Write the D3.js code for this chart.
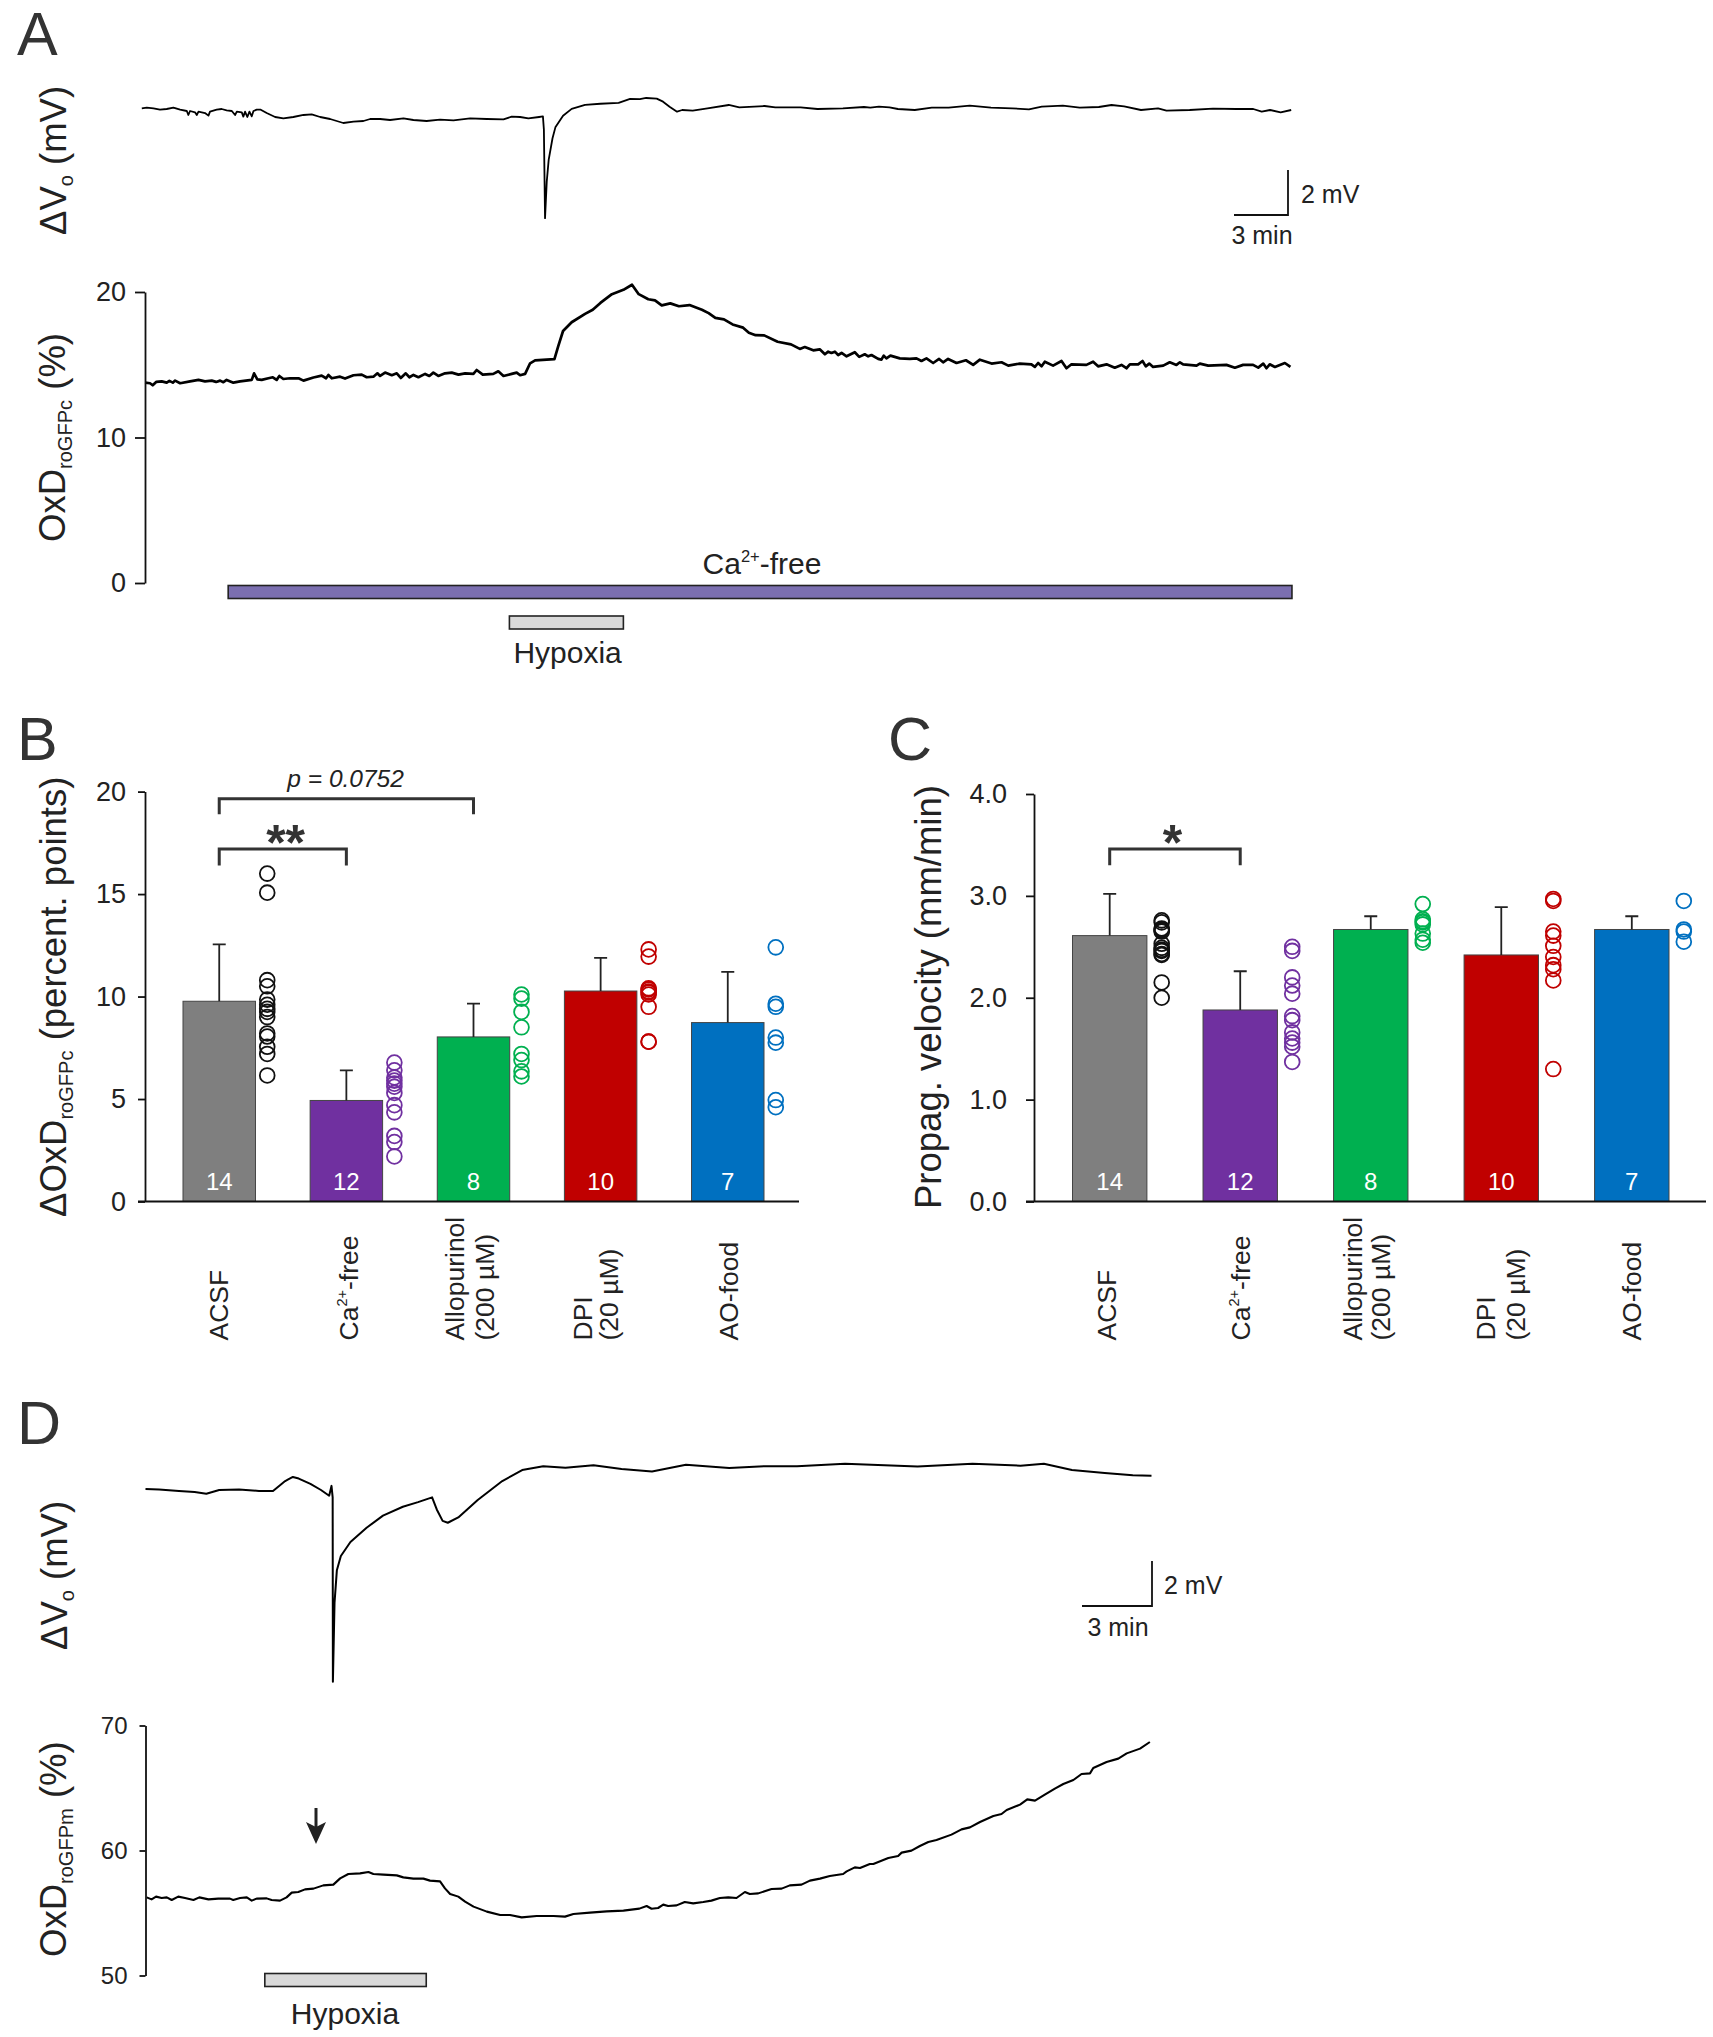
<!DOCTYPE html>
<html>
<head>
<meta charset="utf-8">
<script src="https://cdn.jsdelivr.net/npm/d3@7"></script>
<style>
  html, body { margin: 0; background: #fff; }
  text { font-family: "Liberation Sans", Arial, sans-serif; fill: #222; }
  .domain, .tick line { stroke: #111; stroke-width: 1.8; }
</style>
</head>
<body>
<div id="chart"></div>
<script>
// A: extracellular potential, [min, mV]
const traceAV = [[0.01,-0.015],[0.27,0.015],[0.62,-0.015],[0.96,-0.075],[1.31,-0.045],[1.66,0.015],[2.01,-0.075],[2.36,-0.135],[2.44,-0.314],[2.53,-0.135],[2.79,-0.195],[2.88,-0.314],[2.97,-0.165],[3.31,-0.225],[3.49,-0.344],[3.57,-0.165],[3.92,-0.075],[4.18,-0.045],[4.44,-0.105],[4.71,-0.135],[4.88,-0.314],[4.97,-0.165],[5.23,-0.195],[5.31,-0.389],[5.4,-0.165],[5.52,-0.404],[5.63,-0.165],[5.75,-0.374],[5.84,-0.135],[6.01,-0.075],[6.22,-0.075],[6.53,-0.225],[6.97,-0.404],[7.4,-0.464],[7.92,-0.404],[8.45,-0.314],[8.88,-0.284],[9.32,-0.404],[9.84,-0.494],[10.53,-0.674],[11.06,-0.614],[11.58,-0.584],[11.93,-0.494],[12.45,-0.494],[12.97,-0.539],[13.67,-0.464],[14.19,-0.539],[14.88,-0.584],[15.58,-0.524],[16.28,-0.554],[17.15,-0.464],[18.02,-0.494],[18.89,-0.509],[19.32,-0.389],[19.76,-0.404],[20.19,-0.464],[20.75,-0.404],[20.95,-0.38],[21,-0.97],[21.06,-4.95],[21.15,-3.3],[21.25,-2.33],[21.45,-1.36],[21.6,-0.87],[22,-0.35],[22.45,-0.04],[23.15,0.14],[23.95,0.19],[24.9,0.23],[25.5,0.41],[26.01,0.4],[26.34,0.45],[26.89,0.42],[27.22,0.284],[27.56,0.06],[27.95,-0.165],[28.22,-0.09],[28.77,-0.12],[29.54,-0.015],[30.65,0.135],[31.2,0.03],[32.52,0.09],[33.08,0.03],[34.4,0.03],[35.28,-0.045],[36.61,-0.015],[37.71,0.045],[38.04,0.015],[38.49,0.06],[39.04,0.03],[39.48,-0.045],[40.36,-0.09],[41.25,0.015],[42.13,0.015],[43.23,0.105],[44.34,0.015],[45.44,-0.015],[46.32,-0.06],[46.99,0.06],[48.09,0.105],[48.97,0.015],[49.97,0.045],[50.63,0.135],[51.29,0.075],[52.17,-0.09],[53.06,-0.015],[53.5,-0.12],[54.71,-0.09],[55.93,-0.03],[57.14,-0.045],[58.03,-0.045],[58.47,-0.165],[58.91,-0.09],[59.46,-0.195],[60.01,-0.09]];
// A: roGFPc oxidation, [min, %]
const traceAOx = [[0.18,13.77],[0.44,13.73],[0.58,13.59],[0.76,13.82],[1.05,13.86],[1.31,13.77],[1.45,13.89],[1.63,13.77],[1.75,13.91],[2.01,13.73],[2.53,13.86],[2.97,13.96],[3.31,13.86],[3.66,13.91],[3.89,13.82],[4.1,13.91],[4.27,13.8],[4.44,13.96],[4.79,13.77],[5.14,13.86],[5.75,13.96],[5.87,14.41],[6.04,14],[6.27,13.96],[6.62,14.07],[6.85,14.14],[7.05,13.96],[7.19,14.23],[7.4,14.02],[7.75,14.07],[8.19,14.07],[8.45,13.91],[8.97,14.12],[9.4,14.25],[9.63,14.07],[9.75,14.3],[9.93,14.07],[10.36,14.18],[10.62,14.05],[11.06,14.28],[11.49,14.32],[11.75,14.14],[12.1,14.18],[12.31,14.41],[12.45,14.23],[12.71,14.46],[13.06,14.28],[13.32,14.41],[13.53,14.09],[13.79,14.41],[13.98,14.14],[14.19,14.3],[14.45,14.14],[14.8,14.37],[15.02,14.23],[15.23,14.46],[15.49,14.23],[15.84,14.41],[16.19,14.46],[16.54,14.32],[16.89,14.41],[17.32,14.37],[17.49,14.64],[17.81,14.32],[18.36,14.37],[18.62,14.55],[18.89,14.23],[19.32,14.37],[19.58,14.46],[19.76,14.28],[20.02,14.37],[20.28,15.1],[20.54,15.3],[21.55,15.39],[21.75,16.28],[22,17.32],[22.45,17.92],[23.15,18.5],[23.55,18.78],[23.95,19.25],[24.55,19.85],[25.15,20.15],[25.6,20.5],[25.95,19.85],[26.45,19.5],[26.8,19.42],[27.15,19.08],[27.6,19.22],[28.05,19.02],[28.6,19.1],[29.25,18.78],[29.6,18.55],[29.95,18.22],[30.4,18.12],[30.85,17.77],[31.4,17.55],[31.7,17.2],[32.05,17.03],[32.5,17.02],[33.2,16.58],[33.9,16.4],[34.36,16.09],[34.62,16.22],[35.06,15.99],[35.4,16.06],[35.67,15.72],[35.84,15.9],[36.01,15.81],[36.19,15.9],[36.36,15.67],[36.54,15.81],[36.8,15.58],[37.23,15.86],[37.46,15.54],[37.75,15.72],[37.93,15.58],[38.1,15.67],[38.45,15.4],[38.62,15.35],[38.74,15.63],[38.88,15.44],[39.09,15.63],[39.58,15.44],[40.1,15.4],[40.45,15.44],[40.71,15.26],[40.97,15.44],[41.32,15.12],[41.63,15.4],[41.84,15.17],[42.1,15.4],[42.54,15.12],[43.03,15.31],[43.41,14.99],[43.76,15.35],[44.37,15.08],[44.89,15.17],[45.24,14.94],[45.84,15.08],[46.45,15.03],[46.63,14.85],[46.8,15.12],[46.98,14.89],[47.15,15.21],[47.58,14.94],[48.02,15.26],[48.28,14.76],[48.54,15.03],[49.32,14.99],[49.67,15.21],[49.93,14.89],[50.37,15.03],[50.8,14.8],[51.15,14.99],[51.41,14.76],[51.59,15.03],[52.02,15.03],[52.25,15.26],[52.42,14.89],[52.6,15.08],[52.8,14.85],[53.33,14.94],[53.67,15.17],[54.02,14.99],[54.2,15.17],[54.37,15.03],[55.07,14.94],[55.24,15.08],[55.68,14.94],[56.63,14.99],[57.07,14.8],[57.5,14.99],[58.02,14.99],[58.29,14.8],[58.55,15.08],[58.72,14.76],[58.89,15.03],[59.16,14.85],[59.42,14.99],[59.68,15.12],[59.97,14.85]];

const groups = ["ACSF", "Ca-free", "Allopurinol", "DPI", "AO-food"];
const groupColors = ["#7f7f7f", "#7030a0", "#00b050", "#c00000", "#0070c0"];
const dotColors = ["#111111", "#7030a0", "#00b050", "#c00000", "#0070c0"];
const groupN = [14, 12, 8, 10, 7];

// B: change of oxidation, percentage points
const meanB = [9.77, 4.93, 8.03, 10.27, 8.73];
const errB = [12.55, 6.4, 9.65, 11.89, 11.2];
const dotsB = [
  [16.0, 15.07, 10.8, 10.5, 9.85, 9.6, 9.4, 9.25, 9.0, 8.2, 8.05, 7.55, 7.2, 6.15],
  [6.78, 6.4, 6.05, 5.9, 5.75, 5.6, 5.3, 4.7, 4.35, 3.2, 2.9, 2.2],
  [10.1, 9.9, 9.25, 8.5, 7.2, 6.9, 6.35, 6.1],
  [12.3, 11.95, 10.4, 10.35, 10.25, 10.2, 10.1, 9.5, 7.8, 7.8],
  [12.4, 9.65, 9.5, 8.0, 7.75, 4.95, 4.6]
];

// C: propagation velocity, mm/min
const meanC = [2.61, 1.88, 2.67, 2.42, 2.67];
const errC = [3.02, 2.26, 2.80, 2.89, 2.80];
const dotsC = [
  [2.76, 2.74, 2.68, 2.67, 2.66, 2.65, 2.53, 2.49, 2.47, 2.46, 2.43, 2.42, 2.15, 2.0],
  [2.5, 2.46, 2.2, 2.12, 2.04, 1.82, 1.78, 1.66, 1.6, 1.56, 1.52, 1.37],
  [2.92, 2.77, 2.75, 2.74, 2.72, 2.63, 2.57, 2.54],
  [2.97, 2.95, 2.65, 2.61, 2.51, 2.4, 2.32, 2.28, 2.17, 1.3],
  [2.95, 2.67, 2.65, 2.55]
];

// D: extracellular potential, [min, mV]
const traceDV = [[0,0.04],[0.58,0.02],[1.43,-0.04],[2.1,-0.09],[2.6,-0.16],[3.15,0],[4,0.02],[4.85,-0.04],[5.45,-0.04],[5.75,0.21],[5.97,0.39],[6.1,0.46],[6.3,0.57],[6.55,0.5],[7.05,0.27],[7.5,0],[7.85,-0.25],[7.95,0.18],[8,-0.32],[8.01,-8.37],[8.08,-4.92],[8.18,-3.5],[8.35,-2.88],[8.76,-2.27],[9.45,-1.65],[10.15,-1.12],[11,-0.73],[11.65,-0.53],[12.25,-0.32],[12.45,-0.85],[12.7,-1.35],[12.92,-1.43],[13.37,-1.2],[14.2,-0.44],[15.25,0.39],[16.1,0.87],[17,1.04],[17.95,0.97],[19.15,1.08],[20.35,0.92],[21.65,0.81],[23.1,1.1],[24.95,0.96],[26.5,1.04],[27.85,1.04],[29.9,1.15],[33,1.03],[35.35,1.15],[37.4,1.06],[38.4,1.15],[39.6,0.87],[41,0.74],[42.2,0.64],[43,0.62]];
// D: roGFPm oxidation, [min, %]
const traceDOx = [[0.05,56.25],[0.26,56.09],[0.45,56.31],[0.69,56.2],[0.91,56.25],[1.12,56.04],[1.4,56.31],[1.69,56.2],[2.05,56.04],[2.3,56.25],[2.69,56.09],[3.11,56.15],[3.61,56.15],[3.75,56.04],[4.04,56.2],[4.33,56.25],[4.54,55.99],[4.75,56.15],[5.18,56.17],[5.39,56.04],[5.75,55.99],[6.03,56.25],[6.25,56.63],[6.53,56.68],[6.82,56.89],[7.18,56.95],[7.6,57.21],[8.03,57.27],[8.32,57.77],[8.67,58.12],[9.17,58.17],[9.53,58.28],[9.74,58.12],[10.17,58.07],[10.74,58.01],[11.02,57.85],[11.45,57.75],[11.88,57.75],[12.16,57.59],[12.59,57.53],[12.8,56.97],[13.02,56.52],[13.37,56.31],[13.66,55.91],[14.02,55.51],[14.59,55.11],[15.16,54.84],[15.58,54.84],[16.08,54.65],[16.72,54.76],[17.44,54.76],[17.93,54.71],[18.29,54.92],[19,55.03],[19.71,55.13],[20.43,55.19],[21.11,55.35],[21.42,55.56],[21.63,55.34],[21.91,55.4],[22.13,55.67],[22.34,55.56],[22.7,55.61],[23.05,55.88],[23.41,55.77],[23.84,55.88],[24.19,55.99],[24.55,56.2],[24.91,56.25],[25.26,56.2],[25.62,56.68],[25.83,56.52],[26.19,56.57],[26.76,56.92],[27.19,56.95],[27.54,57.21],[28.04,57.27],[28.4,57.59],[28.83,57.75],[29.25,57.96],[29.82,58.12],[29.97,58.33],[30.32,58.65],[30.54,58.6],[30.96,58.92],[31.11,58.92],[31.75,59.4],[32.17,59.56],[32.32,59.83],[32.74,59.99],[33.1,60.36],[33.46,60.68],[33.81,60.84],[34.45,61.27],[34.88,61.69],[35.24,61.85],[35.67,62.28],[36.24,62.76],[36.59,62.92],[36.81,63.24],[37.38,63.67],[37.69,64.09],[38.02,63.99],[38.44,64.47],[38.87,64.95],[39.23,65.32],[39.66,65.64],[40.01,66.12],[40.37,66.17],[40.51,66.6],[41.08,67.08],[41.58,67.35],[41.94,67.77],[42.51,68.15],[42.93,68.68]];

const ticksAOx = [0, 10, 20];
const ticksB = [0, 5, 10, 15, 20];
const ticksC = [0, 1, 2, 3, 4];
const ticksDOx = [50, 60, 70];

const svg = d3.select("#chart").append("svg").attr("width", 1713).attr("height", 2037);

// text made of pieces, each piece can be sub- or superscript
function richText(x, y, rotate, size, parts, anchor) {
  var t = svg.append("text")
    .attr("transform", "translate(" + x + "," + y + ")" + (rotate ? "rotate(-90)" : ""))
    .attr("text-anchor", anchor || "start")
    .style("font-size", size + "px");
  var shift = 0;
  parts.forEach(function (p) {
    var off = p.sub ? size * 0.2 : p.sup ? -size * 0.4 : 0;
    t.append("tspan")
      .attr("dy", off - shift)
      .style("font-size", (p.sub || p.sup ? size * 0.55 : size) + "px")
      .text(p.t);
    shift = off;
  });
  return t;
}

function panelLetter(s, x, y) {
  svg.append("text").attr("x", x).attr("y", y).style("font-size", "61px").style("fill", "#333").text(s);
}

function leftAxis(scale, x, ticks, fmt, inner, pad, size) {
  var g = svg.append("g")
    .attr("transform", "translate(" + x + ",0)")
    .call(d3.axisLeft(scale).tickValues(ticks).tickFormat(fmt).tickSizeInner(inner).tickSizeOuter(0).tickPadding(pad));
  g.selectAll("text").style("font-size", size + "px").style("font-family", "'Liberation Sans'");
  return g;
}

function drawTrace(data, x, y, w) {
  svg.append("path").datum(data)
    .attr("fill", "none").attr("stroke", "#000").attr("stroke-width", w).attr("stroke-linejoin", "round")
    .attr("d", d3.line().x(function (d) { return x(d[0]); }).y(function (d) { return y(d[1]); }));
}

function scaleBar(x0, x1, y0, y1, lab1X, lab1Y, lab2X, lab2Y) {
  svg.append("path").attr("fill", "none").attr("stroke", "#111").attr("stroke-width", 1.8)
    .attr("d", "M" + x0 + "," + y1 + "L" + x1 + "," + y1 + "L" + x1 + "," + y0);
  svg.append("text").attr("x", lab1X).attr("y", lab1Y).style("font-size", "25px").text("2 mV");
  svg.append("text").attr("x", lab2X).attr("y", lab2Y).attr("text-anchor", "middle").style("font-size", "25px").text("3 min");
}

function stimBar(x, from, to, y0, y1, fill) {
  svg.append("rect").attr("x", x(from)).attr("y", y0).attr("width", x(to) - x(from)).attr("height", y1 - y0)
    .attr("fill", fill).attr("stroke", "#222").attr("stroke-width", 1.6);
}

// ---------- A ----------
panelLetter("A", 17, 55);
var xA = d3.scaleLinear().domain([0, 60]).range([141.6, 1291]);
var yAV = d3.scaleLinear().domain([0, -5]).range([108, 219.3]);
var yAOx = d3.scaleLinear().domain([0, 20]).range([583, 292]);
drawTrace(traceAV, xA, yAV, 1.8);
drawTrace(traceAOx, xA, yAOx, 2.7);
leftAxis(yAOx, 145, ticksAOx, d3.format("d"), 10, 9, 27);
scaleBar(1234, 1288, 170, 215, 1301, 203, 1262, 244);
richText(66, 235, true, 36.5, [{t: "\u0394V"}, {t: "o", sub: 1}, {t: " (mV)"}]);
richText(65, 542, true, 36.5, [{t: "OxD"}, {t: "roGFPc", sub: 1}, {t: " (%)"}]);
stimBar(xA, 4.52, 60.05, 585.5, 598.5, "#7b6fb0");
stimBar(xA, 19.2, 25.15, 616, 629, "#d9d9d9");
richText(762, 574, false, 30, [{t: "Ca"}, {t: "2+", sup: 1}, {t: "-free"}], "middle");
richText(567.6, 663, false, 30, [{t: "Hypoxia"}], "middle");

// ---------- B and C ----------
function barPanel(cfg) {
  var x = d3.scaleBand().domain(groups).range(cfg.xRange).paddingInner(0.43).paddingOuter(0);
  var y = d3.scaleLinear().domain(cfg.yDomain).range([1201.5, cfg.yTop]);
  var cx = function (g) { return x(g) + x.bandwidth() / 2; };

  svg.append("g").selectAll("rect").data(groups).enter().append("rect")
    .attr("x", function (d) { return x(d); })
    .attr("y", function (d, i) { return y(cfg.mean[i]); })
    .attr("width", x.bandwidth())
    .attr("height", function (d, i) { return y(0) - y(cfg.mean[i]); })
    .attr("fill", function (d, i) { return groupColors[i]; })
    .attr("stroke", "#444").attr("stroke-width", 1);

  var err = svg.append("g").attr("stroke", "#222").attr("stroke-width", 1.8);
  err.selectAll("path").data(groups).enter().append("path").attr("fill", "none")
    .attr("d", function (d, i) {
      return "M" + cx(d) + "," + y(cfg.mean[i]) + "V" + y(cfg.err[i]) + "M" + (cx(d) - 6.5) + "," + y(cfg.err[i]) + "h13";
    });

  groups.forEach(function (g, i) {
    svg.append("g").selectAll("circle").data(cfg.dots[i]).enter().append("circle")
      .attr("cx", cx(g) + cfg.dotOffset).attr("cy", function (d) { return y(d); }).attr("r", 7.4)
      .attr("fill", "none").attr("stroke", dotColors[i]).attr("stroke-width", 1.8);
    svg.append("text").attr("x", cx(g)).attr("y", 1190).attr("text-anchor", "middle")
      .style("font-size", "24px").style("fill", "#fff").text(groupN[i]);
  });

  svg.append("line").attr("x1", cfg.axisX - cfg.tick).attr("x2", cfg.xEnd).attr("y1", y(0)).attr("y2", y(0))
    .attr("stroke", "#111").attr("stroke-width", 2);
  leftAxis(y, cfg.axisX, cfg.ticks, cfg.fmt, cfg.tick, cfg.pad, 27);

  cfg.brackets.forEach(function (b) {
    svg.append("path").attr("fill", "none").attr("stroke", "#333").attr("stroke-width", 3)
      .attr("d", "M" + cx(groups[b.from]) + "," + y(b.low) + "V" + y(b.high) + "H" + cx(groups[b.to]) + "V" + y(b.low));
  });
  cfg.labels.forEach(function (l, i) {
    var at = cfg.labelX[i];
    if (i === 1) richText(at + 9, 1340.5, true, 26.5, [{t: "Ca"}, {t: "2+", sup: 1}, {t: "-free"}]);
    else l.forEach(function (line, k) {
      richText(at[k] + 9, 1340.5, true, 26.5, [{t: line}]);
    });
  });
}

var labelsBar = [["ACSF"], [], ["Allopurinol", "(200 \u00b5M)"], ["DPI", "(20 \u00b5M)"], ["AO-food"]];

panelLetter("B", 17, 760);
barPanel({
  xRange: [183, 764], yDomain: [0, 20], yTop: 791.6, mean: meanB, err: errB, dots: dotsB, dotOffset: 48,
  axisX: 145, tick: 7, pad: 12, xEnd: 799, ticks: ticksB, fmt: d3.format("d"),
  brackets: [{from: 0, to: 2, high: 19.65, low: 18.9}, {from: 0, to: 1, high: 17.2, low: 16.4}],
  labels: labelsBar, labelX: [[219], 349, [455, 485], [583, 609], [729]]
});
richText(66, 1217, true, 36.5, [{t: "\u0394OxD"}, {t: "roGFPc", sub: 1}, {t: " (percent. points)"}]);
svg.append("text").attr("x", 345.6).attr("y", 787).attr("text-anchor", "middle")
  .style("font-size", "24.5px").style("font-style", "italic").text("p = 0.0752");
svg.append("text").attr("x", 285.6).attr("y", 860).attr("text-anchor", "middle").style("font-size", "50px").style("font-weight", "bold").style("fill", "#333").text("**");

panelLetter("C", 888, 760);
barPanel({
  xRange: [1072.5, 1669], yDomain: [0, 4], yTop: 794, mean: meanC, err: errC, dots: dotsC, dotOffset: 52,
  axisX: 1034, tick: 8, pad: 19, xEnd: 1706, ticks: ticksC, fmt: d3.format(".1f"),
  brackets: [{from: 0, to: 1, high: 3.46, low: 3.3}],
  labels: labelsBar, labelX: [[1107], 1241, [1353, 1381], [1486, 1516], [1632]]
});
richText(941, 1209, true, 36.5, [{t: "Propag. velocity (mm/min)"}]);
svg.append("text").attr("x", 1172.6).attr("y", 860).attr("text-anchor", "middle").style("font-size", "50px").style("font-weight", "bold").style("fill", "#333").text("*");

// ---------- D ----------
panelLetter("D", 17, 1444);
var xD = d3.scaleLinear().domain([0, 43]).range([145.5, 1151.5]);
var yDV = d3.scaleLinear().domain([0, -8]).range([1490, 1673.2]);
var yDOx = d3.scaleLinear().domain([50, 70]).range([1975.5, 1725.5]);
drawTrace(traceDV, xD, yDV, 2);
drawTrace(traceDOx, xD, yDOx, 2.1);
leftAxis(yDOx, 145.5, ticksDOx, d3.format("d"), 6, 12, 24);
scaleBar(1082, 1152, 1561, 1606, 1164, 1593.5, 1118, 1635.5);
richText(67, 1650, true, 36.5, [{t: "\u0394V"}, {t: "o", sub: 1}, {t: " (mV)"}]);
richText(65.5, 1957, true, 36.5, [{t: "OxD"}, {t: "roGFPm", sub: 1}, {t: " (%)"}]);
stimBar(xD, 5.1, 12, 1973.5, 1986.5, "#d9d9d9");
richText(345, 2024, false, 30, [{t: "Hypoxia"}], "middle");

// arrow above the oxidation onset
svg.append("line").attr("x1", 316).attr("x2", 316).attr("y1", 1808).attr("y2", 1830).attr("stroke", "#222").attr("stroke-width", 3);
svg.append("path").attr("fill", "#222").attr("d", "M306,1822L316,1844L326,1822L316,1827Z");
</script>
</body>
</html>
